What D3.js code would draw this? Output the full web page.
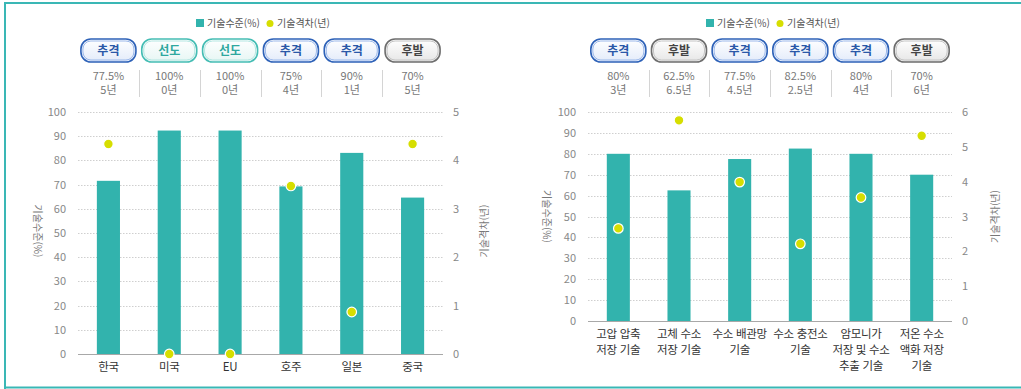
<!DOCTYPE html>
<html lang="ko">
<head>
<meta charset="utf-8">
<script src="https://cdn.jsdelivr.net/npm/d3@7/dist/d3.min.js"></script>
<style>
  html, body { margin: 0; padding: 0; background: #fff; }
  svg { display: block; font-family: "Noto Sans CJK KR", "Noto Sans", sans-serif; }
</style>
</head>
<body>
<svg id="chart" width="1021" height="389"></svg>
<script>
// ---- Left panel: by country ----
const countries = ["한국", "미국", "EU", "호주", "일본", "중국"];
const countryLevel = [77.5, 100, 100, 75, 90, 70];   // 기술수준(%)
const countryGap = [5, 0, 0, 4, 1, 5];                // 기술격차(년)
const countryStatus = ["추격", "선도", "선도", "추격", "추격", "후발"];

// ---- Right panel: by storage technology ----
const techs = [
  ["고압 압축", "저장 기술"],
  ["고체 수소", "저장 기술"],
  ["수소 배관망", "기술"],
  ["수소 충전소", "기술"],
  ["암모니가", "저장 및 수소", "추출 기술"],
  ["저온 수소", "액화 저장", "기술"]
];
const techLevel = [80, 62.5, 77.5, 82.5, 80, 70];
const techGap = [3, 6.5, 4.5, 2.5, 4, 6];
const techStatus = ["추격", "후발", "추격", "추격", "추격", "후발"];

// axis tick labels
const levelTicks = d3.range(0, 101, 10);
const gapTicksLeft = d3.range(0, 6, 1);
const gapTicksRight = d3.range(0, 7, 1);

const legendLabels = ["기술수준(%)", "기술격차(년)"];

const BAR = "#32b3ad";
const DOT = "#d6de00";

const badgeStyle = {
  "추격": { outer: "#2e62b8", inner: "#9bb8ea", top: "#ffffff", bottom: "#e3ebfa", text: "#2a58a8" },
  "선도": { outer: "#45bdb4", inner: "#b3e6e1", top: "#ffffff", bottom: "#e6f6f4", text: "#2ea89f" },
  "후발": { outer: "#6e6e6e", inner: "#c4c4c4", top: "#ffffff", bottom: "#e6e6e6", text: "#444444" }
};

const svg = d3.select("#chart");
const defs = svg.append("defs");
Object.entries(badgeStyle).forEach(([k, s], i) => {
  const g = defs.append("linearGradient").attr("id", "bg" + i)
    .attr("x1", 0).attr("y1", 0).attr("x2", 0).attr("y2", 1);
  g.append("stop").attr("offset", "0%").attr("stop-color", s.top);
  g.append("stop").attr("offset", "100%").attr("stop-color", s.bottom);
  s.grad = "url(#bg" + i + ")";
});

// outer frame
svg.append("path")
  .attr("d", "M5,389 V3 H1021")
  .attr("fill", "none").attr("stroke", "#3ab7b5").attr("stroke-width", 2);
svg.append("line")
  .attr("x1", 5).attr("x2", 1021).attr("y1", 387.5).attr("y2", 387.5)
  .attr("stroke", "#3ab7b5").attr("stroke-width", 2);

function drawPanel(cfg) {
  const g = svg.append("g");
  const x = d3.scaleBand().domain(d3.range(cfg.cats.length))
    .range([cfg.left, cfg.right]).paddingInner(0.62).paddingOuter(0.31);
  const step = x.step();
  const cx = i => x(i) + x.bandwidth() / 2;

  // labelled axes
  const yAxisScale = d3.scaleLinear().domain([0, 100]).range([cfg.bottom, cfg.top]);
  const gAxisScale = d3.scaleLinear().domain([0, d3.max(cfg.gapTicks)]).range([cfg.bottom, cfg.top]);
  // mark scales: plotted on a slightly taller domain than the labelled axes
  const yMark = d3.scaleLinear().domain([0, cfg.levelMax]).range([cfg.bottom, cfg.top]);
  const gMark = d3.scaleLinear().domain([0, cfg.gapMax]).range([cfg.bottom, cfg.top]);

  // legend
  const lg = g.append("g").attr("font-size", 10).attr("fill", "#555");
  lg.append("rect").attr("x", cfg.legendX).attr("y", 19).attr("width", 8).attr("height", 8).attr("fill", BAR);
  lg.append("text").attr("x", cfg.legendX + 11).attr("y", 23).attr("dy", "0.35em").text(legendLabels[0]);
  lg.append("circle").attr("cx", cfg.legendX + 74).attr("cy", 23.5).attr("r", 3.5).attr("fill", DOT);
  lg.append("text").attr("x", cfg.legendX + 81).attr("y", 23).attr("dy", "0.35em").text(legendLabels[1]);

  // status badges
  const bw = 55, bh = 23, by = 39;
  cfg.status.forEach((st, i) => {
    const s = badgeStyle[st];
    const bx = cx(i) - bw / 2;
    g.append("rect").attr("x", bx).attr("y", by).attr("width", bw).attr("height", bh)
      .attr("rx", 10).attr("fill", s.grad).attr("stroke", s.outer).attr("stroke-width", 1.6);
    g.append("rect").attr("x", bx + 2).attr("y", by + 2).attr("width", bw - 4).attr("height", bh - 4)
      .attr("rx", 8).attr("fill", "none").attr("stroke", s.inner).attr("stroke-width", 1);
    g.append("text").attr("x", cx(i)).attr("y", by + bh / 2).attr("dy", "0.36em")
      .attr("text-anchor", "middle").attr("font-size", 12).attr("font-weight", 700)
      .attr("fill", s.text).text(st);
  });

  // value summary under the badges
  cfg.cats.forEach((c, i) => {
    g.append("text").attr("x", cx(i)).attr("y", 76).attr("dy", "0.35em")
      .attr("text-anchor", "middle").attr("font-size", 11).attr("fill", "#777")
      .text(cfg.level[i] + "%");
    g.append("text").attr("x", cx(i)).attr("y", 90).attr("dy", "0.35em")
      .attr("text-anchor", "middle").attr("font-size", 11).attr("fill", "#777")
      .text(cfg.gap[i] + "년");
    if (i > 0) {
      const sx = Math.round(x(i) - (step - x.bandwidth()) / 2) + 0.5;
      g.append("line").attr("x1", sx).attr("x2", sx).attr("y1", 70).attr("y2", 97)
        .attr("stroke", "#d4d4d4");
    }
  });

  // gridlines
  g.append("g").selectAll("line").data(levelTicks.slice(1)).join("line")
    .attr("x1", cfg.left).attr("x2", cfg.right)
    .attr("y1", d => Math.round(yAxisScale(d)) + 0.5).attr("y2", d => Math.round(yAxisScale(d)) + 0.5)
    .attr("stroke", "#cfcfcf").attr("stroke-dasharray", "1.5,1.5");

  // left axis
  const ax = g.append("g").attr("transform", `translate(${cfg.left - 8},0)`)
    .call(d3.axisLeft(yAxisScale).tickValues(levelTicks).tickSize(0).tickPadding(4));
  ax.select(".domain").remove();
  ax.selectAll("text").attr("font-size", 11).attr("fill", "#888")
    .attr("font-family", "'Noto Sans CJK KR', sans-serif");

  // right axis
  const ar = g.append("g").attr("transform", `translate(${cfg.right + 10},0)`)
    .call(d3.axisRight(gAxisScale).tickValues(cfg.gapTicks).tickFormat(d3.format("d"))
      .tickSize(0).tickPadding(0));
  ar.select(".domain").remove();
  ar.selectAll("text").attr("font-size", 11).attr("fill", "#888")
    .attr("font-family", "'Noto Sans CJK KR', sans-serif");

  // axis titles
  const midY = (cfg.top + cfg.bottom) / 2 + cfg.titleShift;
  g.append("text").attr("transform", `translate(${cfg.leftTitleX},${midY}) rotate(90)`)
    .attr("text-anchor", "middle").attr("dy", "0.35em").attr("font-size", 10).attr("fill", "#777")
    .text(legendLabels[0]);
  g.append("text").attr("transform", `translate(${cfg.rightTitleX},${midY}) rotate(-90)`)
    .attr("text-anchor", "middle").attr("dy", "0.35em").attr("font-size", 10).attr("fill", "#777")
    .text(legendLabels[1]);

  // bars
  g.append("g").selectAll("rect").data(cfg.level).join("rect")
    .attr("x", (d, i) => x(i)).attr("width", x.bandwidth())
    .attr("y", d => yMark(d)).attr("height", d => cfg.bottom - yMark(d))
    .attr("fill", BAR);

  // baseline
  g.append("line").attr("x1", cfg.left).attr("x2", cfg.right)
    .attr("y1", cfg.bottom + 0.5).attr("y2", cfg.bottom + 0.5)
    .attr("stroke", "#a8a8a8");

  // gap dots
  g.append("g").selectAll("circle").data(cfg.gap).join("circle")
    .attr("cx", (d, i) => cx(i)).attr("cy", d => gMark(d))
    .attr("r", 4.8).attr("fill", DOT).attr("stroke", "#fff").attr("stroke-width", 1.2);

  // category labels
  cfg.cats.forEach((c, i) => {
    const lines = Array.isArray(c) ? c : [c];
    lines.forEach((t, k) => {
      g.append("text").attr("x", cx(i)).attr("y", cfg.bottom + 13 + k * 16).attr("dy", "0.35em")
        .attr("text-anchor", "middle").attr("font-size", 11.5).attr("letter-spacing", -0.3)
        .attr("fill", "#333").text(t);
    });
  });
}

drawPanel({
  cats: countries, level: countryLevel, gap: countryGap, status: countryStatus,
  left: 78, right: 443, top: 112, bottom: 354,
  levelMax: 108.3, gapMax: 5.76, gapTicks: gapTicksLeft,
  legendX: 196, leftTitleX: 37, rightTitleX: 484, titleShift: -2
});

drawPanel({
  cats: techs, level: techLevel, gap: techGap, status: techStatus,
  left: 588, right: 952, top: 112, bottom: 321,
  levelMax: 100, gapMax: 6.77, gapTicks: gapTicksRight,
  legendX: 706, leftTitleX: 546, rightTitleX: 995, titleShift: 0
});
</script>
</body>
</html>
